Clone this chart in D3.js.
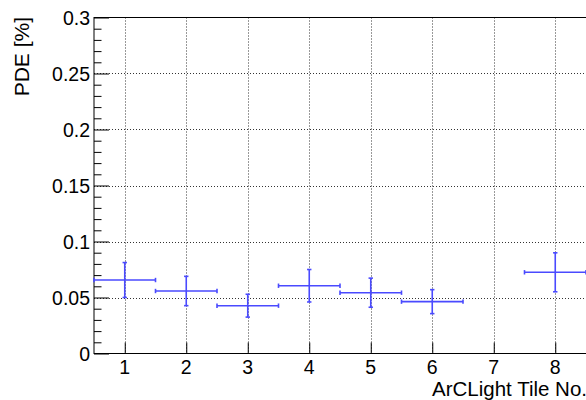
<!DOCTYPE html>
<html>
<head>
<meta charset="utf-8">
<script src="https://cdn.jsdelivr.net/npm/d3@7"></script>
<style>
  html, body { margin: 0; padding: 0; background: #fff; }
  svg { display: block; }
  text { font-family: "Liberation Sans", Arial, Helvetica, sans-serif; fill: #000; }
</style>
</head>
<body>
<svg id="chart" width="586" height="400"></svg>
<script>
// ---- data ----
const tiles = [1, 2, 3, 4, 5, 6, 8];
const pde = [0.0656, 0.0558, 0.0427, 0.0605, 0.0543, 0.0463, 0.0725];
const pdeErr = [0.0156, 0.0131, 0.0102, 0.0145, 0.0130, 0.0107, 0.0174];
const tileHalfWidth = [0.5, 0.5, 0.5, 0.5, 0.5, 0.5, 0.5];
const xTicks = [1, 2, 3, 4, 5, 6, 7, 8];
const yTicks = [0, 0.05, 0.1, 0.15, 0.2, 0.25, 0.3];
const yTickLabels = ["0", "0.05", "0.1", "0.15", "0.2", "0.25", "0.3"];
const xTitle = "ArCLight Tile No.";
const yTitle = "PDE [%]";

// ---- layout ----
const svg = d3.select("#chart");
const L = 94, R = 586, T = 17.5, B = 353.5;
const x = d3.scaleLinear().domain([0.5, 8.5]).range([L, R]);
const y = d3.scaleLinear().domain([0, 0.3]).range([B, T]);

// grid
const grid = svg.append("g").attr("stroke", "#333").attr("stroke-width", 1).attr("stroke-dasharray", "1,2");
grid.selectAll("line.v").data(xTicks).join("line")
  .attr("x1", d => Math.round(x(d)) + 0.5).attr("x2", d => Math.round(x(d)) + 0.5)
  .attr("y1", T).attr("y2", B);
grid.selectAll("line.h").data(yTicks.filter(d => d > 0 && d < 0.3)).join("line")
  .attr("y1", d => Math.round(y(d)) + 0.5).attr("y2", d => Math.round(y(d)) + 0.5)
  .attr("x1", L).attr("x2", R);

// y axis (left) with major/minor ticks
const yAxis = d3.axisRight(y).tickValues(yTicks).tickSize(15).tickFormat("");
const gy = svg.append("g").attr("transform", `translate(${L},0)`).call(yAxis);
gy.select(".domain").remove();
gy.selectAll(".tick line").attr("stroke", "#000");
const yMinor = d3.range(0, 0.3001, 0.01).filter(v => Math.abs(v / 0.05 - Math.round(v / 0.05)) > 1e-6);
svg.append("g").attr("transform", `translate(${L},0)`)
  .call(d3.axisRight(y).tickValues(yMinor).tickSize(7.5).tickFormat(""))
  .call(g => g.select(".domain").remove())
  .selectAll(".tick line").attr("stroke", "#000");

// y tick labels
svg.append("g").selectAll("text").data(yTicks).join("text")
  .attr("x", L - 4).attr("y", d => y(d))
  .attr("dy", "0.36em")
  .attr("text-anchor", "end")
  .style("font-size", "19.5px")
  .text((d, i) => yTickLabels[i]);

// x axis ticks
const xAxis = d3.axisTop(x).tickValues(xTicks).tickSize(11).tickFormat("");
const gx = svg.append("g").attr("transform", `translate(0,${B})`).call(xAxis);
gx.select(".domain").remove();
gx.selectAll(".tick line").attr("stroke", "#000");
svg.append("g").selectAll("text").data(xTicks).join("text")
  .attr("x", d => x(d)).attr("y", 374)
  .attr("text-anchor", "middle")
  .style("font-size", "19.5px")
  .text(d => d);

// frame
svg.append("rect").attr("x", L).attr("y", T).attr("width", R - L + 2).attr("height", B - T)
  .attr("fill", "none").attr("stroke", "#000").attr("stroke-width", 1);

// data error bars
const blue = "#4a4aff";
const marks = svg.append("g").attr("stroke", blue).attr("stroke-width", 1.6).attr("fill", "none");
const cap = 2.2;
tiles.forEach((t, i) => {
  const cx = x(t), cy = y(pde[i]);
  const xl = x(t - tileHalfWidth[i]), xr = x(t + tileHalfWidth[i]);
  const yt = y(pde[i] + pdeErr[i]), yb = y(pde[i] - pdeErr[i]);
  marks.append("line").attr("x1", xl).attr("x2", xr).attr("y1", cy).attr("y2", cy);
  marks.append("line").attr("x1", xl).attr("x2", xl).attr("y1", cy - cap).attr("y2", cy + cap);
  marks.append("line").attr("x1", xr).attr("x2", xr).attr("y1", cy - cap).attr("y2", cy + cap);
  marks.append("line").attr("x1", cx).attr("x2", cx).attr("y1", yt).attr("y2", yb);
  marks.append("line").attr("x1", cx - cap).attr("x2", cx + cap).attr("y1", yt).attr("y2", yt);
  marks.append("line").attr("x1", cx - cap).attr("x2", cx + cap).attr("y1", yb).attr("y2", yb);
});

// titles
svg.append("text").attr("x", 587).attr("y", 396)
  .attr("text-anchor", "end").style("font-size", "20.5px").text(xTitle);
svg.append("text").attr("transform", "translate(29,17) rotate(-90)")
  .attr("text-anchor", "end").style("font-size", "21px").text(yTitle);
</script>
</body>
</html>
